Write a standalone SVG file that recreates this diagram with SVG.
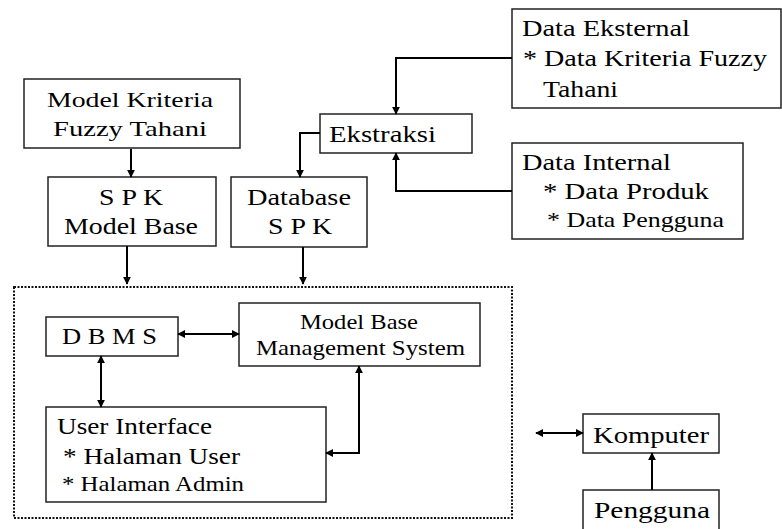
<svg xmlns="http://www.w3.org/2000/svg" width="782" height="529" viewBox="0 0 782 529">
<defs>
<style>
.box{fill:#fff;stroke:#222;stroke-width:1.5}
.t{font-family:"Liberation Serif","DejaVu Serif","Noto Serif",serif;fill:#000;font-size:22px}
.s{font-size:21px}
.m{font-size:23px}
.l{font-size:24px}
.c{fill:none;stroke:#000;stroke-width:2}
</style>
<marker id="ah" viewBox="0 0 10 10" refX="9" refY="5" markerWidth="4" markerHeight="4" orient="auto-start-reverse">
<path d="M0,0 L10,5 L0,10 z" fill="#000"/>
</marker>
</defs>
<rect width="782" height="529" fill="#fff"/>
<g font-family="Liberation Serif, DejaVu Serif, serif">
<g id="model-kriteria"><rect class="box" x="24" y="79" width="216" height="69"/>
<text class="t" x="47" y="107" textLength="166" lengthAdjust="spacingAndGlyphs">Model Kriteria</text>
<text class="t" x="53" y="136" textLength="154" lengthAdjust="spacingAndGlyphs">Fuzzy Tahani</text></g>
<g id="spk-model-base"><rect class="box" x="48" y="177" width="168" height="69"/>
<text class="t m" x="99" y="205" textLength="64" lengthAdjust="spacingAndGlyphs">S P K</text>
<text class="t m" x="64" y="234" textLength="134" lengthAdjust="spacingAndGlyphs">Model Base</text></g>
<g id="database-spk"><rect class="box" x="231" y="177" width="136" height="70"/>
<text class="t m" x="247" y="205" textLength="104" lengthAdjust="spacingAndGlyphs">Database</text>
<text class="t m" x="268" y="234" textLength="64" lengthAdjust="spacingAndGlyphs">S P K</text></g>
<g id="ekstraksi"><rect class="box" x="320" y="114" width="152" height="39"/>
<text class="t l" x="329" y="142" textLength="107" lengthAdjust="spacingAndGlyphs">Ekstraksi</text></g>
<g id="data-eksternal"><rect class="box" x="512" y="9" width="269" height="99"/>
<text class="t l" x="522" y="36" textLength="168" lengthAdjust="spacingAndGlyphs">Data Eksternal</text>
<text class="t l" x="523" y="66" textLength="244" lengthAdjust="spacingAndGlyphs">* Data Kriteria Fuzzy</text>
<text class="t l" x="543" y="97" textLength="75" lengthAdjust="spacingAndGlyphs">Tahani</text></g>
<g id="data-internal"><rect class="box" x="512" y="143" width="231" height="96"/>
<text class="t m" x="522" y="170" textLength="149" lengthAdjust="spacingAndGlyphs">Data Internal</text>
<text class="t m" x="543" y="199" textLength="166" lengthAdjust="spacingAndGlyphs">* Data Produk</text>
<text class="t" x="547" y="227" textLength="177" lengthAdjust="spacingAndGlyphs">* Data Pengguna</text></g>
<g id="sistem"><rect x="14" y="287" width="498" height="231" fill="none" stroke="#111" stroke-width="2" stroke-dasharray="2 1.5"/></g>
<g id="dbms"><rect class="box" x="46" y="317" width="132" height="39"/>
<text class="t m" x="62" y="344" textLength="95" lengthAdjust="spacingAndGlyphs">D B M S</text></g>
<g id="mbms"><rect class="box" x="239" y="303" width="241" height="63"/>
<text class="t s" x="300" y="329" textLength="118" lengthAdjust="spacingAndGlyphs">Model Base</text>
<text class="t s" x="256" y="355" textLength="209" lengthAdjust="spacingAndGlyphs">Management System</text></g>
<g id="user-interface"><rect class="box" x="46" y="407" width="280" height="95"/>
<text class="t m" x="57" y="434" textLength="155" lengthAdjust="spacingAndGlyphs">User Interface</text>
<text class="t m" x="63" y="464" textLength="177" lengthAdjust="spacingAndGlyphs">* Halaman User</text>
<text class="t" x="62" y="491" textLength="182" lengthAdjust="spacingAndGlyphs">* Halaman Admin</text></g>
<g id="komputer"><rect class="box" x="583" y="414" width="136" height="39"/>
<text class="t l" x="593" y="443" textLength="116" lengthAdjust="spacingAndGlyphs">Komputer</text></g>
<g id="pengguna"><rect class="box" x="583" y="490" width="136" height="45"/>
<text class="t l" x="594" y="518" textLength="116" lengthAdjust="spacingAndGlyphs">Pengguna</text></g>
</g>
<g id="connectors">
<path class="c" d="M131,149 V177" marker-end="url(#ah)"/>
<path class="c" d="M127,246 V284" marker-end="url(#ah)"/>
<path class="c" d="M303,247 V284" marker-end="url(#ah)"/>
<path class="c" d="M512,58 H396 V114" marker-end="url(#ah)"/>
<path class="c" d="M512,191 H396 V153" marker-end="url(#ah)"/>
<path class="c" d="M320,133 H300 V177" marker-end="url(#ah)"/>
<path class="c" d="M178,334 H239" marker-start="url(#ah)" marker-end="url(#ah)"/>
<path class="c" d="M101,356 V407" marker-start="url(#ah)" marker-end="url(#ah)"/>
<path class="c" d="M326,453 H359 V366" marker-start="url(#ah)" marker-end="url(#ah)"/>
<path class="c" d="M536,433 H583" marker-start="url(#ah)" marker-end="url(#ah)"/>
<path class="c" d="M652,490 V453" marker-end="url(#ah)"/>
</g>
</svg>
